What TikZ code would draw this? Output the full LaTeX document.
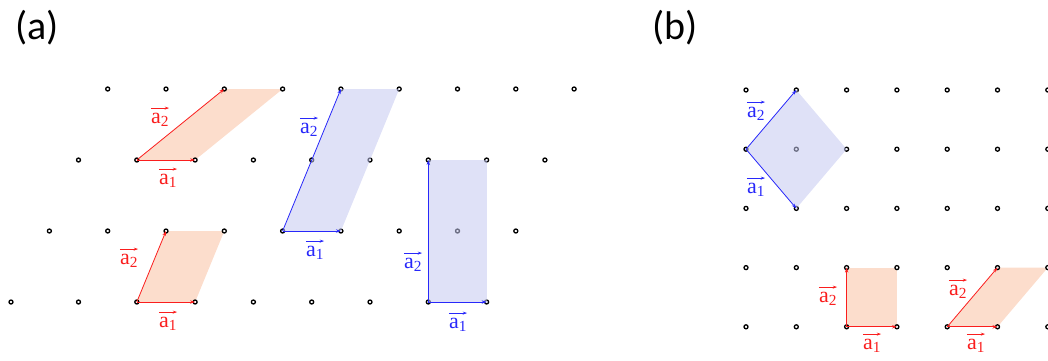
\documentclass[tikz,border=0pt]{standalone}
\usepackage{amsmath}
\usepackage{fontspec}
\newfontfamily\labelfont{Liberation Serif}
\newfontfamily\titlefont{Carlito}
\usetikzlibrary{arrows.meta}
\definecolor{peach}{RGB}{252,221,204}
\definecolor{lilac}{RGB}{196,200,240}
\definecolor{vred}{RGB}{250,30,30}
\definecolor{vblue}{RGB}{40,40,250}
\tikzset{dot/.style={draw=black,fill=white,line width=1.3pt},
  vec/.style={-{Stealth[length=5pt,width=3.4pt]},line width=0.8pt},
  redcell/.style={fill=peach},
  bluecell/.style={fill=lilac,fill opacity=0.55},
  lbl/.style={font=\labelfont\fontsize{22}{26}\selectfont,inner sep=0pt,#1,
    append after command={([yshift=5pt]\tikzlastnode.north west)
      edge[#1,-{Stealth[length=4.5pt,width=3pt]},line width=0.8pt]
      ([yshift=5pt]\tikzlastnode.north east)}},
  panel/.style={font=\titlefont\fontsize{40}{48}\selectfont,inner sep=0pt}}
\newcommand{\asub}[1]{$\text{a}_{\text{#1}}$}

\begin{document}
\begin{tikzpicture}[x=1pt,y=-1pt]
\useasboundingbox (0,0) rectangle (1048,360);
% lattice points of (a)
\foreach \i in {0,...,8}{
  \coordinate (a1-\i) at (107.7+58.3*\i,89);
  \coordinate (a2-\i) at (78.5+58.3*\i,160);
  \coordinate (a3-\i) at (49.4+58.3*\i,231);
}
\coordinate (a4-0) at (11,302);
\foreach \i in {1,...,8} \coordinate (a4-\i) at (20.2+58.3*\i,302);
% lattice points of (b)
\foreach \r in {1,...,5}
  \foreach \j in {0,...,6}
    \coordinate (b\r-\j) at (746+50.3*\j,30.8+59.2*\r);

\node[panel] (pa) at (37,28) {(a)};
\node[panel] (pb) at (675,28) {(b)};

% red cells
\fill[redcell] (a2-1) -- (a2-2) -- (a1-3) -- (a1-2) -- cycle;
\fill[redcell] (a4-2) -- (a4-3) -- (a3-3) -- (a3-2) -- cycle;
\fill[redcell] (b5-2) -- (b5-3) -- (b4-3) -- (b4-2) -- cycle;
\fill[redcell] (b5-4) -- (b5-5) -- (b4-6) -- (b4-5) -- cycle;

% dots
\foreach \r in {1,...,4}
  \foreach \i in {0,...,8}
    \draw[dot] (a\r-\i) circle (2pt);
\foreach \r in {1,...,5}
  \foreach \j in {0,...,6}
    \draw[dot] (b\r-\j) circle (2pt);

% blue cells
\fill[bluecell] (a3-4) -- (a3-5) -- (a1-5) -- (a1-4) -- cycle;
\fill[bluecell] (a4-7) -- (a4-8) -- (a2-7) -- (a2-6) -- cycle;
\fill[bluecell] (b2-0) -- (b3-1) -- (b2-2) -- (b1-1) -- cycle;

% primitive vectors
\draw[vec,vred] (a2-1) -- (a2-2);
\draw[vec,vred] (a2-1) -- (a1-2);
\draw[vec,vred] (a4-2) -- (a4-3);
\draw[vec,vred] (a4-2) -- (a3-2);
\draw[vec,vblue] (a3-4) -- (a3-5);
\draw[vec,vblue] (a3-4) -- (a1-4);
\draw[vec,vblue] (a4-7) -- (a4-8);
\draw[vec,vblue] (a4-7) -- (a2-6);
\draw[vec,vblue] (b2-0) -- (b3-1);
\draw[vec,vblue] (b2-0) -- (b1-1);
\draw[vec,vred] (b5-2) -- (b5-3);
\draw[vec,vred] (b5-2) -- (b4-2);
\draw[vec,vred] (b5-4) -- (b5-5);
\draw[vec,vred] (b5-4) -- (b4-5);

% labels
\node[lbl=vred] (l1b) at (160,120) {\asub{2}};
\node[lbl=vred] (l1a) at (168,181) {\asub{1}};
\node[lbl=vred] (l2b) at (129,261) {\asub{2}};
\node[lbl=vred] (l2a) at (168,324) {\asub{1}};
\node[lbl=vblue] (l3b) at (309,130) {\asub{2}};
\node[lbl=vblue] (l3a) at (315,253) {\asub{1}};
\node[lbl=vblue] (l4b) at (413,265) {\asub{2}};
\node[lbl=vblue] (l4a) at (458,325) {\asub{1}};
\node[lbl=vblue] (l5b) at (756,114) {\asub{2}};
\node[lbl=vblue] (l5a) at (756,190) {\asub{1}};
\node[lbl=vred] (l6b) at (828,299) {\asub{2}};
\node[lbl=vred] (l6a) at (872,346) {\asub{1}};
\node[lbl=vred] (l7b) at (958,292) {\asub{2}};
\node[lbl=vred] (l7a) at (976,346) {\asub{1}};
\end{tikzpicture}
\end{document}
